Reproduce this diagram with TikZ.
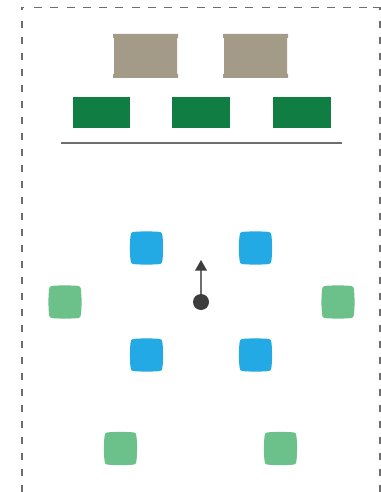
\documentclass[tikz,border=0pt]{standalone}
\definecolor{stonec}{HTML}{A39B88}
\definecolor{deepgreen}{HTML}{107E43}
\definecolor{skyc}{HTML}{23A9E3}
\definecolor{softgreen}{HTML}{6BC189}
\definecolor{darkc}{HTML}{3D3D3D}
\definecolor{bordc}{HTML}{6E6E6E}
\tikzset{
  x=0.75pt,y=-0.75pt,
  frameline/.style={draw=bordc,line width=1pt},
  stonefill/.style={fill=stonec},
  bench/.style={fill=deepgreen},
  pics/pad/.style={code={
    \fill[#1] (-13.5,-16) .. controls (-8,-16.8) and (8,-16.8) .. (13.5,-16)
      .. controls (15.5,-15.6) and (15.6,-14.5) .. (15.8,-13)
      .. controls (16.8,-8) and (16.8,8) .. (15.8,13)
      .. controls (15.6,14.5) and (15.5,15.6) .. (13.5,16)
      .. controls (8,16.8) and (-8,16.8) .. (-13.5,16)
      .. controls (-15.5,15.6) and (-15.6,14.5) .. (-15.8,13)
      .. controls (-16.8,8) and (-16.8,-8) .. (-15.8,-13)
      .. controls (-15.6,-14.5) and (-15.5,-15.6) .. (-13.5,-16) -- cycle;
  }},
  pics/stone/.style={code={
    \fill[stonefill] (-32.5,-22) rectangle (32.5,-18)
      (-31.5,-18) rectangle (31.5,18)
      (-32.5,18) rectangle (32.5,22);
  }}
}
\begin{document}
\begin{tikzpicture}
\useasboundingbox (0,0) rectangle (381,492);
\clip (0,0) rectangle (381,492);
\draw[frameline,dash pattern=on 6.0pt off 6.2pt] (34,7.5) -- (376,7.5);
\draw[frameline] (22,10.5) -- (22,7.5) -- (24,7.5) (372.5,7.5) -- (380,7.5) -- (380,10.5);
\draw[frameline,dash pattern=on 5.2pt off 6.8pt] (22,20.7) -- (22,492);
\draw[frameline,dash pattern=on 5.2pt off 6.8pt] (380,20.7) -- (380,492);
\pic at (145.5,56) {stone};
\pic at (255.5,56) {stone};
\fill[bench] (72.5,97) rectangle (130,128);
\fill[bench] (172,97) rectangle (229.5,128);
\fill[bench] (273,97) rectangle (330.5,128);
\draw[draw=bordc,line width=1pt] (61,143) -- (342,143);
\pic at (146.5,248) {pad=skyc};
\pic at (255.5,248) {pad=skyc};
\pic at (146.5,355) {pad=skyc};
\pic at (255.5,355) {pad=skyc};
\pic at (65,302) {pad=softgreen};
\pic at (338,302) {pad=softgreen};
\pic at (120.5,448.5) {pad=softgreen};
\pic at (280.5,448.5) {pad=softgreen};
\node[circle,fill=darkc,minimum size=12pt,inner sep=0pt] (dot) at (201,302) {};
\coordinate (tip) at (201,270);
\draw[draw=bordc,line width=1.3pt] (dot.north) -- (tip);
\fill[darkc] (201,260) -- (207,270.5) -- (195,270.5) -- cycle;
\end{tikzpicture}
\end{document}
